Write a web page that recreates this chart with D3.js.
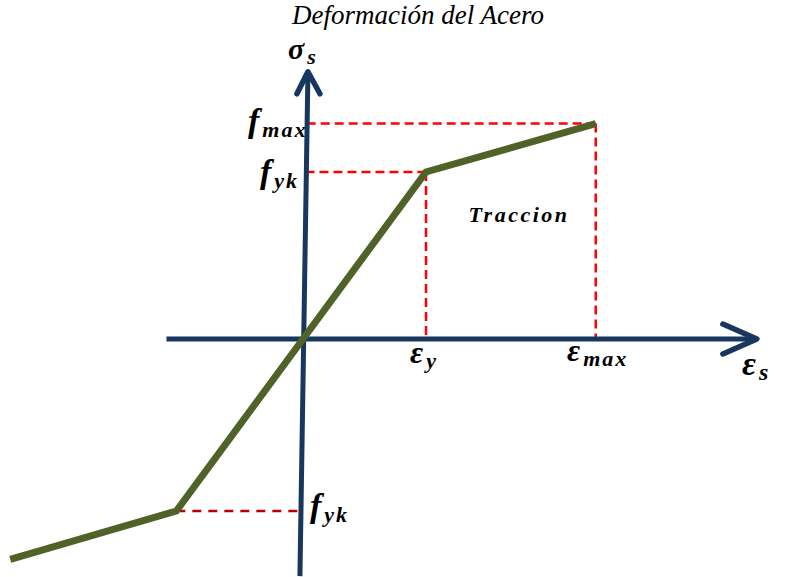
<!DOCTYPE html>
<html>
<head>
<meta charset="utf-8">
<script src="https://cdn.jsdelivr.net/npm/d3@7"></script>
<style>
  html, body { margin: 0; padding: 0; background: #fff; }
  svg { display: block; }
</style>
</head>
<body>
<div id="chart"></div>
<script>
// --- data (strain / stress in units of eps_y and f_yk) ---
const strain = [-2.38, -1.03, 0, 1, 2.38];
const stress = [-1.32, -1.03, 0, 1, 1.29];
const epsY = 1, epsMax = 2.38;
const fyk = 1, fMax = 1.29, fykNeg = -1.03, epsNegBreak = -1.03;
const hAxisRange = [-1.11, 3.69];
const vAxisEnds = [[-0.025, -1.42], [0.04, 1.60]];

const W = 794, H = 577;
const navy = "#17375e", green = "#4f6228", red = "#ff0000", darkRed = "#c00000";
const serif = "'Liberation Serif', 'DejaVu Serif', 'Times New Roman', serif";

const x = d3.scaleLinear().domain([0, 1]).range([303, 426]);
const y = d3.scaleLinear().domain([0, 1]).range([339, 172]);

const svg = d3.select("#chart").append("svg").attr("width", W).attr("height", H);

// title
svg.append("text").attr("x", 418).attr("y", 24).attr("text-anchor", "middle")
  .style("font-family", serif)
  .attr("font-size", 27).attr("font-style", "italic").text("Deformación del Acero");

// dashed guides
const dash = (x1, y1, x2, y2, col, da) => svg.append("line")
  .attr("x1", x(x1)).attr("y1", y(y1)).attr("x2", x(x2)).attr("y2", y(y2))
  .attr("stroke", col).attr("stroke-width", 2.5).attr("stroke-dasharray", da);

dash(0.03, fMax, epsMax, fMax, red, "9,5");
dash(epsMax, fMax, epsMax, 0, red, "9,5");
dash(0.02, fyk, epsY, fyk, red, "9,5");
dash(epsY, fyk, epsY, 0, red, "9,5");
dash(epsNegBreak, fykNeg, -0.02, fykNeg, darkRed, "9,7");

// axes
svg.append("line").attr("x1", x(hAxisRange[0])).attr("x2", x(hAxisRange[1]) - 2)
  .attr("y1", y(0)).attr("y2", y(0)).attr("stroke", navy).attr("stroke-width", 5);
svg.append("line").attr("x1", x(vAxisEnds[0][0])).attr("y1", y(vAxisEnds[0][1]))
  .attr("x2", x(vAxisEnds[1][0])).attr("y2", y(vAxisEnds[1][1]) + 2)
  .attr("stroke", navy).attr("stroke-width", 5);

// arrow heads (open chevrons)
const hx = x(hAxisRange[1]), hy = y(0);
svg.append("path").attr("d", `M${hx - 34},${hy - 15}L${hx},${hy}L${hx - 34},${hy + 15}`)
  .attr("fill", "none").attr("stroke", navy).attr("stroke-width", 5.5)
  .attr("stroke-linecap", "round").attr("stroke-linejoin", "round");
const vx = x(vAxisEnds[1][0]), vy = y(vAxisEnds[1][1]);
svg.append("path").attr("d", `M${vx - 11},${vy + 22}L${vx},${vy}L${vx + 12},${vy + 22}`)
  .attr("fill", "none").attr("stroke", navy).attr("stroke-width", 5.5)
  .attr("stroke-linecap", "round").attr("stroke-linejoin", "round");

// stress-strain curve
const pts = strain.map((e, i) => [e, stress[i]]);
svg.append("path").datum(pts)
  .attr("d", d3.line().x(d => x(d[0])).y(d => y(d[1])))
  .attr("fill", "none").attr("stroke", green).attr("stroke-width", 7)
  .attr("stroke-linejoin", "miter");

// labels: main symbol + subscript
function label(px, py, main, sub, mainSize, subSize) {
  const t = svg.append("text").attr("x", px).attr("y", py)
    .style("font-family", serif)
    .attr("font-weight", "bold").attr("font-style", "italic");
  t.append("tspan").attr("font-size", mainSize).text(main);
  t.append("tspan").attr("font-size", subSize).attr("dy", 5)
    .attr("dx", 3).attr("letter-spacing", 2).text(sub);
  return t;
}

label(288, 59, "σ", "s", 30, 22);
label(248, 132, "f", "max", 34, 22);
label(260, 183, "f", "yk", 34, 22);
label(310, 517, "f", "yk", 34, 22);
label(410, 363, "ε", "y", 32, 22);
label(567, 361, "ε", "max", 32, 22);
label(742, 375, "ε", "s", 34, 24);

svg.append("text").attr("x", 519).attr("y", 222).attr("text-anchor", "middle")
  .style("font-family", serif)
  .attr("font-size", 22).attr("font-weight", "bold").attr("font-style", "italic")
  .attr("letter-spacing", 2.5).text("Traccion");
</script>
</body>
</html>
